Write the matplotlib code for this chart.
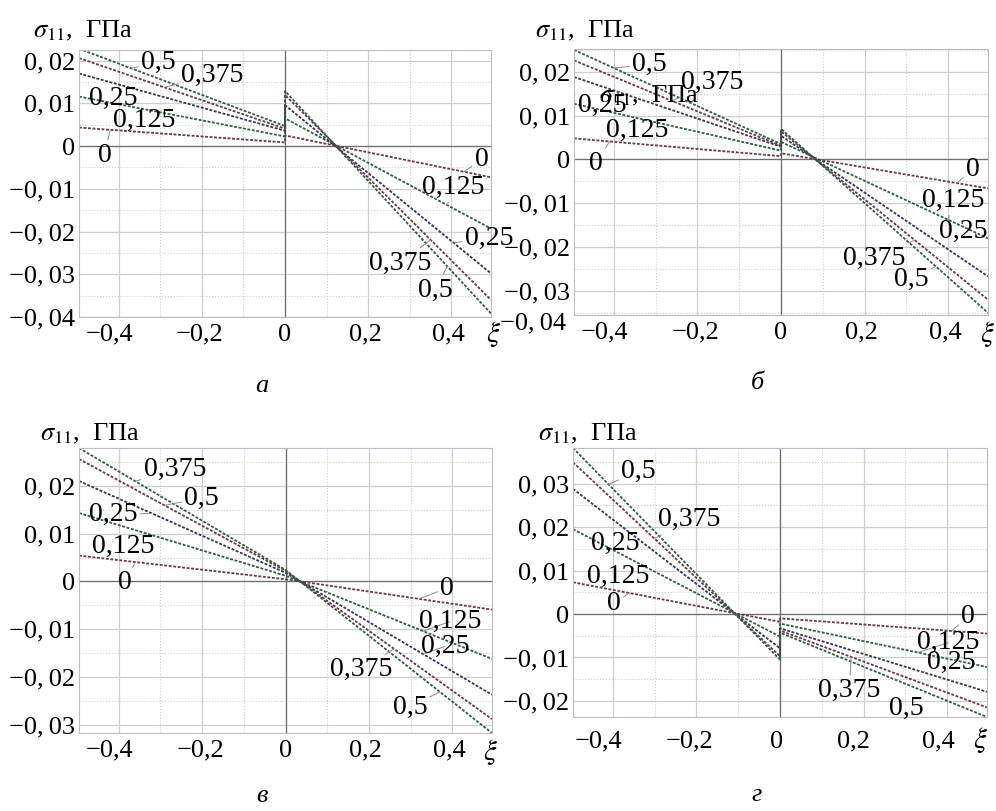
import numpy as np
import matplotlib
matplotlib.use('Agg')
import matplotlib.pyplot as plt
from matplotlib.ticker import MultipleLocator
from matplotlib.transforms import ScaledTranslation

plt.rcParams['font.family'] = ['Liberation Serif', 'DejaVu Serif']
plt.rcParams['mathtext.fontset'] = 'stix'

# curve parameter values (labels on the chart)
params = ['0', '0,125', '0,25', '0,375', '0,5']
x_min, x_max = -0.495, 0.495

# panel а: values at left edge, at 0-, at 0+, at right edge
a_left_edge = [0.00435, 0.0116, 0.0170, 0.0206, 0.0228]
a_left_zero = [0.00086, 0.00226, 0.0036, 0.0041, 0.0047]
a_right_zero = [0.0025, 0.0065, 0.0096, 0.0120, 0.0129]
a_right_edge = [-0.0073, -0.0193, -0.0298, -0.0360, -0.0392]

# panel б
b_left_edge = [0.0048, 0.0127, 0.0188, 0.0226, 0.0250]
b_left_zero = [0.00075, 0.0020, 0.0029, 0.0031, 0.0035]
b_right_zero = [0.0014, 0.0040, 0.0054, 0.0064, 0.0070]
b_right_edge = [-0.0066, -0.0180, -0.0267, -0.0320, -0.0350]

# panel в (no jump at 0)
c_left_edge = [0.0054, 0.0143, 0.0210, 0.0256, 0.0279]
c_zero = [0.00045, 0.0012, 0.0018, 0.0022, 0.0024]
c_right_edge = [-0.0059, -0.0162, -0.0237, -0.0288, -0.0317]

# panel г
d_left_edge = [0.0073, 0.0195, 0.0288, 0.0349, 0.0382]
d_left_zero = [-0.0018, -0.0052, -0.0079, -0.0097, -0.0105]
d_right_zero = [-0.0010, -0.0022, -0.0033, -0.0038, -0.0043]
d_right_edge = [-0.0045, -0.0122, -0.0179, -0.0215, -0.0237]

x_ticks = [-0.4, -0.2, 0, 0.2, 0.4]
x_tick_labels = ['\u22120,4', '\u22120,2', '0', '0,2', '0,4']

colors = ['#6a3848', '#2e5e3e', '#34345e', '#6a3848', '#2e5e3e']
FS = 19
LFS = 20


def ylab(v):
    if v == 0:
        return '0'
    s = '%.2f' % abs(v)
    s = s.replace('.', ',\u2009')
    return ('\u2212' if v < 0 else '') + s


# label layout: text, x, y, curve index, leader target x
labels_a = [('0,5', -0.304, 0.0195, 4, -0.37), ('0,375', -0.175, 0.0165, 3, -0.29),
            ('0,25', -0.412, 0.0111, 2, None), ('0,125', -0.338, 0.0061, 1, None),
            ('0', -0.434, -0.0021, 0, -0.42),
            ('0', 0.472, -0.0032, 0, 0.43), ('0,125', 0.404, -0.0096, 1, 0.39),
            ('0,25', 0.49, -0.0215, 2, 0.405), ('0,375', 0.276, -0.0274, 3, 0.35),
            ('0,5', 0.360, -0.0337, 4, 0.39)]
labels_b = [('0,5', -0.315, 0.0216, 4, -0.40), ('0,375', -0.165, 0.0176, 3, -0.26),
            ('0,25', -0.427, 0.0123, 2, None), ('0,125', -0.343, 0.0067, 1, None),
            ('0', -0.442, -0.0009, 0, -0.41),
            ('0', 0.459, -0.0024, 0, 0.42), ('0,125', 0.411, -0.0093, 1, 0.40),
            ('0,25', 0.435, -0.0165, 2, 0.37), ('0,375', 0.223, -0.0225, 3, 0.32),
            ('0,5', 0.311, -0.0274, 4, 0.37)]
labels_c = [('0,375', -0.265, 0.0234, 4, -0.36), ('0,5', -0.201, 0.0174, 3, -0.29),
            ('0,25', -0.413, 0.0140, 2, -0.32), ('0,125', -0.388, 0.0073, 1, None),
            ('0', -0.385, -0.0003, 0, -0.36),
            ('0', 0.388, -0.0014, 0, 0.32), ('0,125', 0.394, -0.0084, 1, 0.33),
            ('0,25', 0.382, -0.0136, 2, 0.33), ('0,375', 0.182, -0.0185, 3, 0.26),
            ('0,5', 0.298, -0.0263, 4, 0.37)]
labels_d = [('0,5', -0.338, 0.0329, 4, -0.41), ('0,375', -0.218, 0.0217, 3, -0.30),
            ('0,25', -0.394, 0.0162, 2, None), ('0,125', -0.386, 0.0086, 1, None),
            ('0', -0.398, 0.0025, 0, -0.36),
            ('0', 0.450, -0.0006, 0, 0.41), ('0,125', 0.402, -0.0066, 1, 0.33),
            ('0,25', 0.410, -0.0112, 2, 0.34), ('0,375', 0.166, -0.0176, 3, 0.17),
            ('0,5', 0.302, -0.0218, 4, 0.35)]

W, H = 996, 811
fig = plt.figure(figsize=(W / 100, H / 100), dpi=100)


def px_axes(l, t, r, b):
    return fig.add_axes([l / W, 1 - b / H, (r - l) / W, (b - t) / H])


def draw(ax, le, lz, rz, re, ylim, yticks, labels, xpad, xshift):
    ax.set_xlim(x_min, x_max)
    ax.set_ylim(*ylim)
    ax.set_axisbelow(True)
    ax.xaxis.set_minor_locator(MultipleLocator(0.1))
    ax.yaxis.set_minor_locator(MultipleLocator(0.005))
    ax.grid(which='major', color='#cdcdd4', lw=0.9)
    ax.grid(which='minor', color='#cdcdd4', lw=0.8, ls=':')
    ax.axhline(0, color='#6e6e6e', lw=0.9)
    ax.axvline(0, color='#6e6e6e', lw=0.9)
    for s in ax.spines.values():
        s.set_color('#bcbccc')
    ax.tick_params(which='both', length=0, labelsize=FS)
    ax.tick_params(axis='x', pad=xpad)
    ax.tick_params(axis='y', pad=3)
    ax.set_xticks(x_ticks)
    ax.set_xticklabels(x_tick_labels)
    for lab, dx in zip(ax.get_xticklabels(), xshift):
        lab.set_transform(lab.get_transform() + ScaledTranslation(dx / 100, 0, fig.dpi_scale_trans))
    ax.set_yticks(yticks)
    ax.set_yticklabels([ylab(v) for v in yticks])
    curves = []
    for i in range(len(params)):
        xs = [x_min, 0, 0, x_max]
        ys = [le[i], lz[i], rz[i], re[i]]
        ax.plot(xs, ys, color=colors[i], lw=1.3, ls=(0, (1.6, 0.9)))
        curves.append((xs, ys))
    for txt, lx, ly, ci, tx in labels:
        if tx is None:
            ax.text(lx, ly, txt, fontsize=LFS, ha='center', va='center', clip_on=False)
            continue
        xs, ys = curves[ci]
        if tx < 0:
            ty = np.interp(tx, xs[:2], ys[:2])
        else:
            ty = np.interp(tx, xs[2:], ys[2:])
        ax.annotate(txt, xy=(tx, ty), xytext=(lx, ly), fontsize=LFS, ha='center', va='center',
                    annotation_clip=False,
                    arrowprops=dict(arrowstyle='-', color='#8c8c8c', lw=0.7,
                                    shrinkA=0, shrinkB=0))


shift_abc = [-9, -2, 0, -3, -3]
shift_d = [-14, -7, -3, -10, -9]

ax_a = px_axes(79, 50, 491, 317)
draw(ax_a, a_left_edge, a_left_zero, a_right_zero, a_right_edge, (-0.04, 0.0225),
     [0.02, 0.01, 0, -0.01, -0.02, -0.03, -0.04], labels_a, 5, shift_abc)

ax_b = px_axes(574, 49, 988, 315)
draw(ax_b, b_left_edge, b_left_zero, b_right_zero, b_right_edge, (-0.0355, 0.0252),
     [0.02, 0.01, 0, -0.01, -0.02, -0.03], labels_b, 5, shift_abc)
ax_b.text(-0.02, -0.03, ylab(-0.04), fontsize=FS, ha='right', va='center', transform=ax_b.transAxes)
# misplaced axis title inside panel б
ax_b.text(-0.435, 0.0146, r'$\sigma_{11}$,  ГПа', fontsize=FS, ha='left', va='center')

ax_c = px_axes(79, 448, 492, 733)
draw(ax_c, c_left_edge, c_zero, c_zero, c_right_edge, (-0.0317, 0.0279),
     [0.02, 0.01, 0, -0.01, -0.02, -0.03], labels_c, 5, shift_abc)

ax_d = px_axes(573, 448, 987, 717)
draw(ax_d, d_left_edge, d_left_zero, d_right_zero, d_right_edge, (-0.0237, 0.0382),
     [0.03, 0.02, 0.01, 0, -0.01, -0.02], labels_d, 10, shift_d)

# axis titles, ξ and panel letters
for x, y in [(33, 31), (535, 31), (40, 434), (538, 434)]:
    fig.text(x / W, 1 - y / H, r'$\sigma_{11}$,  ГПа', fontsize=FS, ha='left', va='center')
for x, y in [(493, 334), (987, 334), (490, 752), (980, 740)]:
    fig.text(x / W, 1 - y / H, r'$\xi$', fontsize=21, ha='center', va='center')
for t, x, y in [('а', 262, 386), ('б', 757, 383), ('в', 262, 796), ('г', 757, 795)]:
    fig.text(x / W, 1 - y / H, t, fontsize=FS, style='italic', ha='center', va='center')

fig.savefig('out.png', dpi=100)
